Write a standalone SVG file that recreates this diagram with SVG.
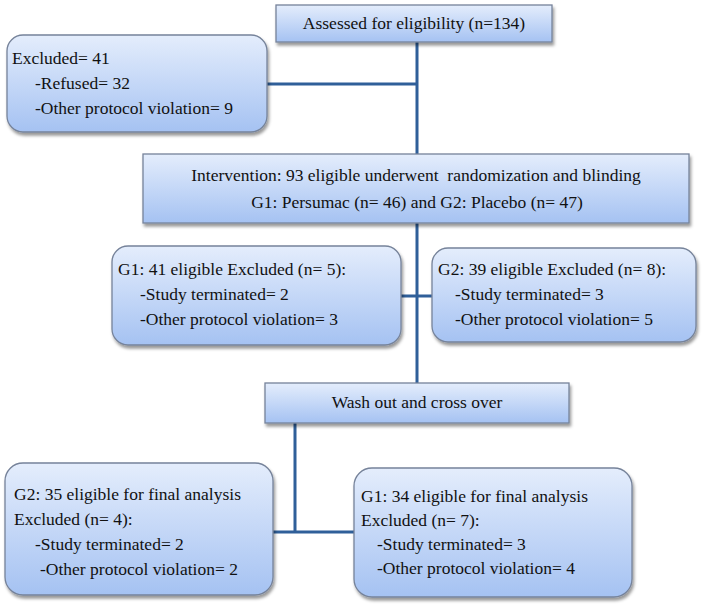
<svg xmlns="http://www.w3.org/2000/svg" width="708" height="607" viewBox="0 0 708 607">
<defs>
<linearGradient id="g" x1="0" y1="0" x2="0" y2="1">
<stop offset="0" stop-color="#e4edfc"/>
<stop offset="1" stop-color="#a5c2f2"/>
</linearGradient>
<filter id="sh" x="-10%" y="-10%" width="125%" height="135%">
<feDropShadow dx="1.5" dy="3" stdDeviation="1.8" flood-color="#000" flood-opacity="0.4"/>
</filter>
<style>
.box{fill:url(#g);stroke:#76839a;stroke-width:1.3;filter:url(#sh)}
.t{font-family:'Liberation Serif','Times New Roman','DejaVu Serif',serif;font-size:17.5px;fill:#111}
.c{text-anchor:middle}
.conn{fill:none;stroke:#2f5f99;stroke-width:3}
</style>
</defs>
<g id="connectors">
<path class="conn" d="M417,42 V154 M267,84 H417"/>
<path class="conn" d="M417,223 V383 M401,296 H432"/>
<path class="conn" d="M295,423 V532 M273,532 H354"/>
</g>
<g id="assessed">
<rect class="box" x="276" y="5" width="276" height="37"/>
<text class="t c" x="414" y="29">Assessed for eligibility (n=134)</text>
</g>
<g id="excluded">
<rect class="box" x="7" y="35" width="260" height="97" rx="16"/>
<text class="t" x="12" y="64">Excluded= 41</text>
<text class="t" x="35" y="89">-Refused= 32</text>
<text class="t" x="35" y="114">-Other protocol violation= 9</text>
</g>
<g id="intervention">
<rect class="box" x="143" y="154" width="546" height="69"/>
<text class="t c" x="416" y="181" xml:space="preserve">Intervention: 93 eligible underwent  randomization and blinding</text>
<text class="t c" x="417" y="208">G1: Persumac (n= 46) and G2: Placebo (n= 47)</text>
</g>
<g id="g1excluded">
<rect class="box" x="112" y="246" width="289" height="99" rx="16"/>
<text class="t" x="118" y="275">G1: 41 eligible Excluded (n= 5):</text>
<text class="t" x="140" y="300">-Study terminated= 2</text>
<text class="t" x="140" y="325">-Other protocol violation= 3</text>
</g>
<g id="g2excluded">
<rect class="box" x="432" y="248" width="264" height="94" rx="16"/>
<text class="t" x="438" y="275">G2: 39 eligible Excluded (n= 8):</text>
<text class="t" x="455" y="300">-Study terminated= 3</text>
<text class="t" x="455" y="325">-Other protocol violation= 5</text>
</g>
<g id="washout">
<rect class="box" x="265" y="383" width="304" height="40"/>
<text class="t c" x="417" y="408">Wash out and cross over</text>
</g>
<g id="g2final">
<rect class="box" x="5" y="463" width="268" height="132" rx="18"/>
<text class="t" x="14" y="500">G2: 35 eligible for final analysis</text>
<text class="t" x="14" y="525">Excluded (n= 4):</text>
<text class="t" x="35" y="550">-Study terminated= 2</text>
<text class="t" x="40" y="575">-Other protocol violation= 2</text>
</g>
<g id="g1final">
<rect class="box" x="354" y="468" width="278" height="129" rx="18"/>
<text class="t" x="361" y="502">G1: 34 eligible for final analysis</text>
<text class="t" x="361" y="526">Excluded (n= 7):</text>
<text class="t" x="377" y="550">-Study terminated= 3</text>
<text class="t" x="377" y="574">-Other protocol violation= 4</text>
</g>
</svg>
